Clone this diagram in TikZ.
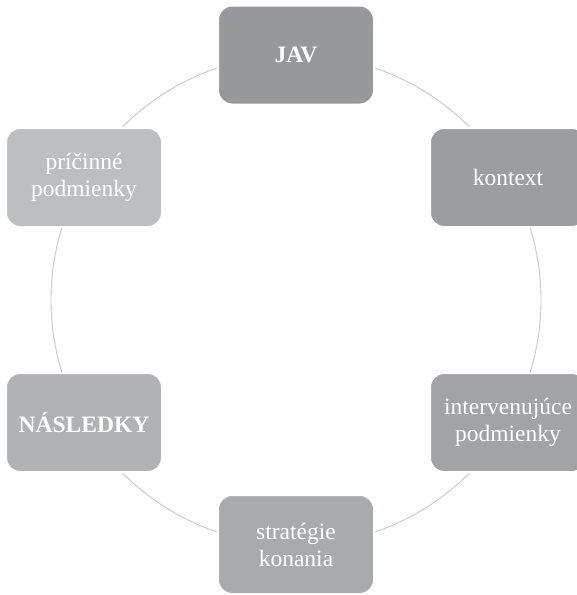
\documentclass[tikz,border=0pt]{standalone}
\usepackage{fontspec}
\setmainfont{Liberation Serif}
\usepackage{tikz}
\definecolor{grayA}{HTML}{97989C}
\definecolor{grayB}{HTML}{9C9DA1}
\definecolor{grayC}{HTML}{A2A3A7}
\definecolor{grayD}{HTML}{A9AAAE}
\definecolor{grayE}{HTML}{B1B2B5}
\definecolor{grayF}{HTML}{BDBEC1}
\definecolor{ringgray}{HTML}{C8C8C8}
\tikzset{
	box/.style={rounded corners=14pt,minimum width=156pt,minimum height=99pt,draw=white,line width=2pt,text=white,align=center,font=\fontsize{23.5}{27}\selectfont},
}
\begin{document}
\begin{tikzpicture}[x=1pt,y=-1pt]
	\useasboundingbox (0,0) rectangle (577,595);
	\draw[ringgray,line width=0.9pt] (296,300) circle (245);
	\node[box,fill=grayA,font=\fontsize{23.5}{27}\selectfont\bfseries] (jav) at (296,55) {JAV};
	\node[box,fill=grayB] (kontext) at (508,177.5) {kontext};
	\node[box,fill=grayC] (interv) at (508,422.5) {intervenujúce\\podmienky};
	\node[box,fill=grayD] (strat) at (296,544.5) {stratégie\\konania};
	\node[box,fill=grayE,font=\fontsize{23.5}{27}\selectfont\bfseries] (nasl) at (84,422.5) {NÁSLEDKY};
	\node[box,fill=grayF] (pric) at (84,177.5) {príčinné\\podmienky};
\end{tikzpicture}
\end{document}
